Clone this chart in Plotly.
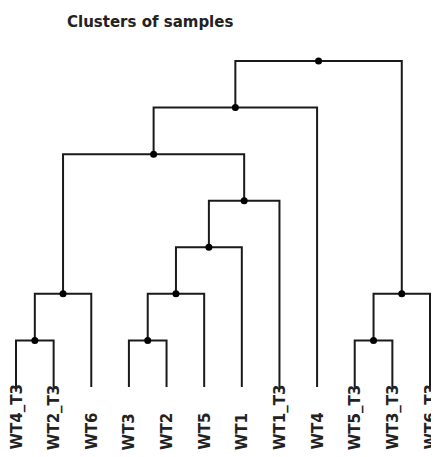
import plotly.graph_objects as go

# ---- data ----
leaves = ["WT4_T3", "WT2_T3", "WT6", "WT3", "WT2", "WT5", "WT1",
          "WT1_T3", "WT4", "WT5_T3", "WT3_T3", "WT6_T3"]
# linkage rows: [child_a, child_b, height]; indices >= len(leaves) refer to earlier merges
merge_a = [0, 3, 9, 12, 13, 14, 16, 18, 15, 20, 21]
merge_b = [1, 4, 10, 2, 5, 11, 6, 7, 19, 8, 17]
merge_h = [1, 1, 1, 2, 2, 2, 3, 4, 5, 6, 7]
title_text = "Clusters of samples"

# ---- build dendrogram geometry from the linkage ----
n = len(leaves)
pos_x = {i: float(i) for i in range(n)}
pos_h = {i: 0.0 for i in range(n)}
lx, ly, dx, dy = [], [], [], []
for k, (a, b, h) in enumerate(zip(merge_a, merge_b, merge_h)):
    node = n + k
    xa, xb = pos_x[a], pos_x[b]
    lx += [xa, xa, xb, xb, None]
    ly += [pos_h[a], h, h, pos_h[b], None]
    pos_x[node] = (xa + xb) / 2
    pos_h[node] = h
    dx.append(pos_x[node])
    dy.append(h)

W, H = 431, 449  # page body has an 8px margin

fig = go.Figure()
fig.add_trace(go.Scatter(x=lx, y=ly, mode="lines",
                         line=dict(color="#1a1a1a", width=2),
                         hoverinfo="skip", showlegend=False))
fig.add_trace(go.Scatter(x=dx, y=dy, mode="markers",
                         marker=dict(color="black", size=7),
                         hoverinfo="skip", showlegend=False))

for i, name in enumerate(leaves):
    fig.add_annotation(x=i, y=(H - 444) / H, xref="x", yref="paper", text=name,
                       textangle=-90, showarrow=False,
                       xanchor="center", yanchor="bottom",
                       font=dict(family="DejaVu Sans", size=15, color="#222", weight="bold"))

fig.add_annotation(x=57 / W, y=1 - 3 / H, xref="paper", yref="paper",
                   text=title_text, showarrow=False, xanchor="left", yanchor="top",
                   font=dict(family="DejaVu Sans", size=15, color="#222", weight="bold"))

fig.update_layout(
    width=W, height=H,
    margin=dict(l=0, r=0, t=0, b=0),
    paper_bgcolor="white", plot_bgcolor="white",
    xaxis=dict(range=[-0.2126, 11.239], visible=False, fixedrange=True),
    yaxis=dict(range=[-1.503, 8.138], visible=False, fixedrange=True),
)
fig.write_html("out.html")
